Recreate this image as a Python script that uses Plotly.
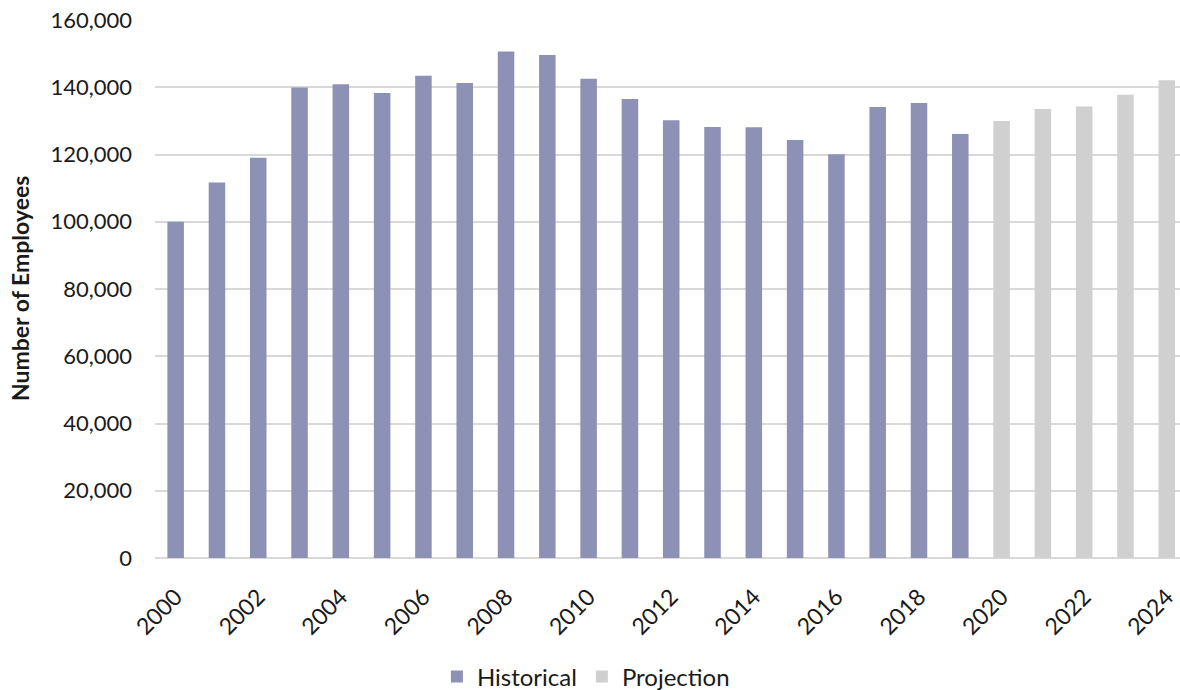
import plotly.graph_objects as go

years_hist = [str(y) for y in range(2000, 2020)]
hist_values = [100000, 111700, 119000, 139900, 140900, 138300, 143400, 141300, 150600, 149600,
               142500, 136500, 130200, 128200, 128100, 124300, 120100, 134100, 135300, 126100]
years_proj = [str(y) for y in range(2020, 2025)]
proj_values = [130000, 133500, 134300, 137800, 142100]
all_years = years_hist + years_proj
tick_years = [str(y) for y in range(2000, 2025, 2)]

FONT = "Lato"

fig = go.Figure()
fig.add_trace(go.Bar(x=years_hist, y=hist_values, name="Historical",
                     marker=dict(color="#8d91b5", line=dict(width=0))))
fig.add_trace(go.Bar(x=years_proj, y=proj_values, name="Projection",
                     marker=dict(color="#d0d0d0", line=dict(width=0))))

fig.update_layout(
    width=1180, height=690,
    margin=dict(l=155, r=0, t=20, b=132, autoexpand=False),
    plot_bgcolor="white", paper_bgcolor="white",
    barmode="overlay", bargap=0.6,
    font=dict(family=FONT, size=22, color="#1a1a1a"),
    xaxis=dict(type="category", categoryorder="array", categoryarray=all_years,
               range=[-0.5, 24.32], tickmode="array", tickvals=tick_years, ticktext=tick_years,
               tickangle=-45, showgrid=False, showline=False, zeroline=False, automargin=False,
               tickfont=dict(family=FONT, size=23), ticklabelstandoff=20),
    yaxis=dict(range=[0, 160000], tickvals=list(range(0, 160001, 20000)),
               tickformat=",d", showgrid=True, gridcolor="#d9d9d9", gridwidth=1.5,
               zeroline=True, zerolinecolor="#d9d9d9", zerolinewidth=1.5, automargin=False,
               showline=False, tickfont=dict(family=FONT, size=22), ticklabelstandoff=22),
    annotations=[dict(text="<b>Number of Employees</b>", xref="paper", yref="paper",
                      x=-0.1317, y=0.5, xanchor="center", yanchor="middle", textangle=-90,
                      showarrow=False, font=dict(family=FONT, size=23, color="#1a1a1a"))],
    legend=dict(orientation="h", x=0.275, xanchor="left", y=-0.221, yanchor="middle",
                font=dict(family=FONT, size=24), itemwidth=30, traceorder="normal"),
    showlegend=True,
)

fig.write_html("out.html")
